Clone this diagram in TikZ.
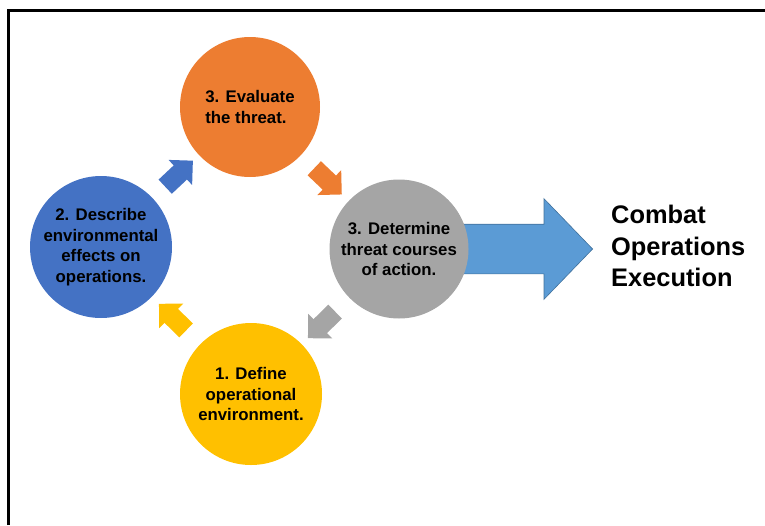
\documentclass[tikz,border=0pt]{standalone}
\usepackage{fontspec}
\setmainfont{Liberation Sans}
\usetikzlibrary{calc, positioning, shapes.arrows, backgrounds}

\definecolor{evalorange}{HTML}{ED7D31}
\definecolor{descblue}{HTML}{4472C4}
\definecolor{detgray}{HTML}{A5A5A5}
\definecolor{defyellow}{HTML}{FFC000}
\definecolor{execblue}{HTML}{5B9BD5}
\definecolor{execedge}{HTML}{41719C}

\tikzset{
  stage/.style={circle, minimum size=142pt, inner sep=0pt, align=center,
    font=\fontsize{16.8}{20.5}\selectfont\bfseries, text=black},
  smallarrow/.style={single arrow, minimum height=38pt, inner xsep=0pt, inner ysep=9.5pt,
    single arrow head extend=7.5pt, single arrow tip angle=90},
  bigarrow/.style={single arrow, fill=execblue, draw=execedge, line width=0.6pt,
    minimum height=155pt, inner xsep=0pt, inner ysep=24.5pt, single arrow head extend=25.5pt,
    single arrow tip angle=92},
}

\newcommand{\cyclearrow}[3]{ % #1: from node, #2: to node, #3: fill colour
  \path let \p1 = ($(#2)-(#1)$), \n1 = {atan2(\y1,\x1)} in
    node[smallarrow, fill=#3, rotate=\n1] (#1-#2) at ($(#1)!0.5!(#2)$) {}; % arrow halfway between the circles
}

\begin{document}
\begin{tikzpicture}[x=1pt, y=-1pt]
\useasboundingbox (0,0) rectangle (765,525);

% Frame, top and left only
\draw[line width=3pt] (8.5,525) -- (8.5,10.5) -- (765,10.5);

% The four steps
\node[stage, fill=defyellow] (define) at (251,394) {1. Define\\operational\\environment.};
\node[stage, fill=descblue] (describe) at (101,247) {2. Describe\\environmental\\effects on\\operations.};
\node[stage, fill=evalorange, minimum size=140pt, align=left] (evaluate) at (250,107) {3. Evaluate\\the threat.};
\node[stage, fill=detgray, minimum size=139pt] (determine) at (399,249) {3. Determine\\threat courses\\of action.};

% Outcome text
\node[right, inner sep=0pt, align=left, font=\fontsize{25.4}{31.5}\selectfont\bfseries] (exec) at (611,246) {Combat\\Operations\\Execution};

% Arrows of the cycle
\cyclearrow{define}{describe}{defyellow}
\cyclearrow{describe}{evaluate}{descblue}
\cyclearrow{evaluate}{determine}{evalorange}
\cyclearrow{determine}{define}{detgray}

% Big arrow, behind the gray circle
\begin{scope}[on background layer]
  \node[bigarrow, anchor=tip] (toexec) at ([xshift=-18pt]determine.center -| exec.west) {};
\end{scope}

\end{tikzpicture}
\end{document}
